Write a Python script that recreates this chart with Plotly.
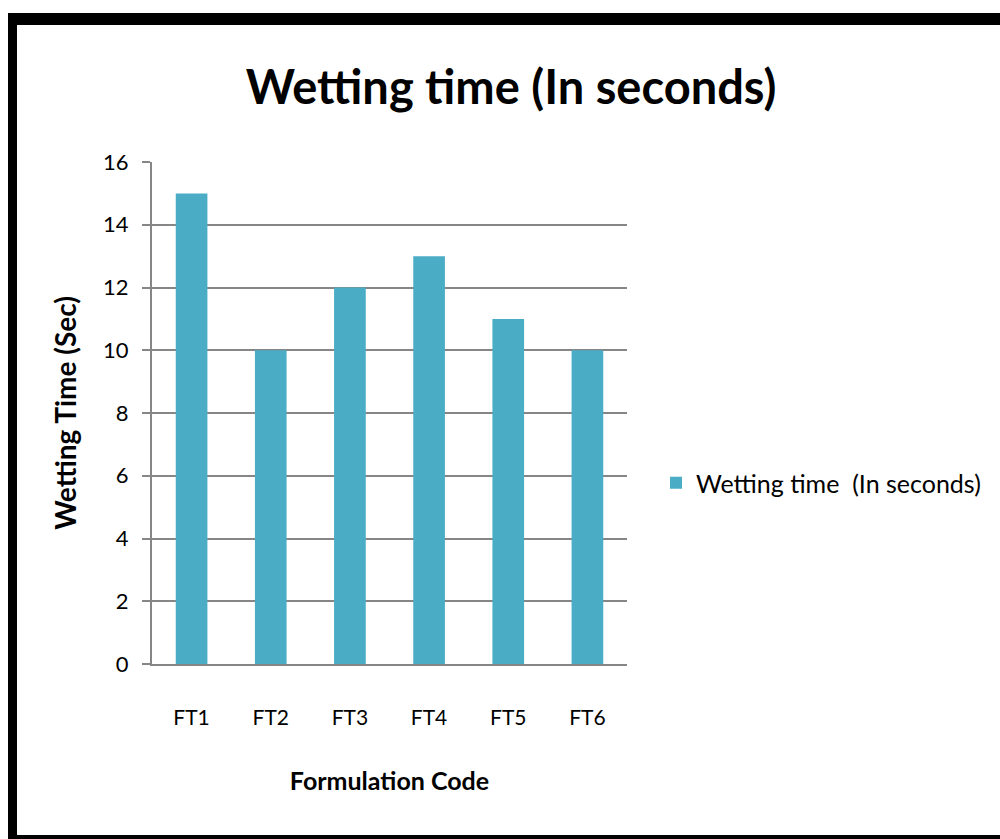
import plotly.graph_objects as go

categories = ["FT1", "FT2", "FT3", "FT4", "FT5", "FT6"]
values = [15, 10, 12, 13, 11, 10]
series_name = "Wetting time  (In seconds)"
y_ticks = [0, 2, 4, 6, 8, 10, 12, 14, 16]

W, H = 1000, 839
L, R, T, B = 152, 627, 162, 664

def px(x):
    return (x - L) / (R - L)

def py(y):
    return (B - y) / (B - T)

FONT = "Lato"

fig = go.Figure()
fig.add_trace(go.Bar(
    x=categories, y=values, name=series_name,
    marker=dict(color="#4BACC6", line=dict(width=0)),
    width=0.4, showlegend=True,
))

shapes = [
    dict(type="rect", xref="paper", yref="paper", x0=px(8), x1=px(17), y0=py(839), y1=py(13),
         fillcolor="black", line=dict(width=0), layer="above"),
    dict(type="rect", xref="paper", yref="paper", x0=px(8), x1=px(1000), y0=py(25), y1=py(13),
         fillcolor="black", line=dict(width=0), layer="above"),
    dict(type="rect", xref="paper", yref="paper", x0=px(8), x1=px(1000), y0=py(839), y1=py(835),
         fillcolor="black", line=dict(width=0), layer="above"),
]

fig.update_layout(
    width=W, height=H,
    margin=dict(l=L, r=W - R, t=T, b=H - B, pad=0),
    paper_bgcolor="white", plot_bgcolor="white",
    title=dict(text="<b>Wetting time (In seconds)</b>", x=511 / W, xanchor="center",
               y=1 - 88 / H, yanchor="middle",
               font=dict(family=FONT, size=47, color="black")),
    font=dict(family=FONT, color="black"),
    bargap=0.6,
    shapes=shapes,
    legend=dict(x=px(656), y=py(483), xanchor="left", yanchor="middle",
                font=dict(family=FONT, size=25, color="black"),
                itemwidth=30, bgcolor="rgba(0,0,0,0)"),
    xaxis=dict(
        showgrid=False, showline=True, linecolor="#868686", linewidth=2,
        ticks="", tickfont=dict(family=FONT, size=21, color="black"),
        ticklabelstandoff=34,
        title=dict(text="<b>Formulation Code</b>", standoff=44,
                   font=dict(family=FONT, size=25, color="black")),
    ),
    yaxis=dict(
        range=[0, 16], tickvals=y_ticks, showgrid=True, gridcolor="#868686", gridwidth=1.5,
        showline=True, linecolor="#868686", linewidth=2,
        ticks="outside", ticklen=8, tickcolor="#868686", tickwidth=1.5,
        tickfont=dict(family=FONT, size=22, color="black"),
        ticklabelstandoff=9,
        zeroline=False,
        title=dict(text="<b>Wetting Time (Sec)</b>", standoff=18,
                   font=dict(family=FONT, size=28, color="black")),
    ),
)

fig.write_html("out.html", config={"displayModeBar": False},
               post_script="document.body.style.margin='0px';document.body.style.overflow='hidden';")
